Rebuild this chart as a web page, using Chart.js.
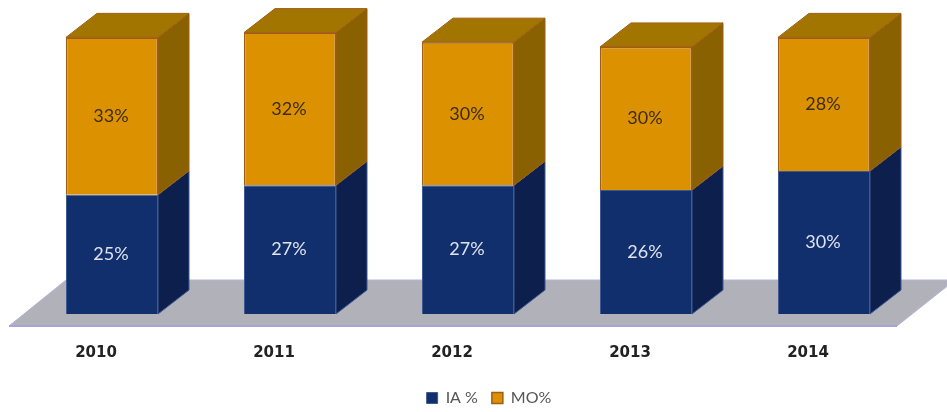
<!DOCTYPE html>
<html>
<head>
<meta charset="utf-8">
<style>
  html, body { margin: 0; padding: 0; background: #fff; }
  canvas { display: block; }
</style>
<script src="https://cdn.jsdelivr.net/npm/chart.js@4"></script>
</head>
<body>
<canvas id="stackChart" width="947" height="412"></canvas>
<script>
const years = ["2010", "2011", "2012", "2013", "2014"];
const iaValues = [25, 27, 27, 26, 30];
const moValues = [33, 32, 30, 30, 28];

// depth of the fake 3D boxes
const depthX = 31;
const depthY = 24;

const floorPlugin = {
  id: 'floor',
  beforeDatasetsDraw(chart) {
    const { ctx, chartArea, scales } = chart;
    const base = scales.y.getPixelForValue(0);
    const front = base + 12;
    const back = base - 34;
    const left = chartArea.left - 14;
    const right = chartArea.right - 16;

    ctx.save();
    ctx.beginPath();
    ctx.moveTo(left, front);
    ctx.lineTo(right, front);
    ctx.lineTo(right + 58, back);
    ctx.lineTo(left + 57, back);
    ctx.closePath();
    ctx.fillStyle = '#b1b2b9';
    ctx.fill();
    ctx.strokeStyle = '#b4b5da';
    ctx.lineWidth = 1;
    ctx.stroke();

    // front edge is heavier
    ctx.beginPath();
    ctx.moveTo(left, front);
    ctx.lineTo(right, front);
    ctx.strokeStyle = '#a3a5d6';
    ctx.lineWidth = 2;
    ctx.stroke();
    ctx.restore();
  }
};

function drawFace(ctx, points, fill, stroke) {
  ctx.beginPath();
  points.forEach((p, i) => i ? ctx.lineTo(p[0], p[1]) : ctx.moveTo(p[0], p[1]));
  ctx.closePath();
  ctx.fillStyle = fill;
  ctx.fill();
  ctx.strokeStyle = stroke;
  ctx.lineWidth = 1;
  ctx.stroke();
}

const boxPlugin = {
  id: 'boxes',
  afterDatasetsDraw(chart) {
    const { ctx } = chart;
    ctx.save();
    chart.data.datasets.forEach((dataset, index) => {
      const meta = chart.getDatasetMeta(index);
      meta.data.forEach((bar, i) => {
        const { x, y, base, width } = bar.getProps(['x', 'y', 'base', 'width'], true);
        const r = x + width / 2;
        const l = x - width / 2;

        drawFace(ctx, [[r, y], [r + depthX, y - depthY], [r + depthX, base - depthY], [r, base]],
          dataset.sideColor, dataset.edgeColor);

        if (index === chart.data.datasets.length - 1) {
          drawFace(ctx, [[l, y], [l + depthX, y - depthY], [r + depthX, y - depthY], [r, y]],
            dataset.topColor, dataset.edgeColor);
        }

        // value label
        ctx.fillStyle = dataset.labelColor;
        ctx.font = '18px Lato';
        ctx.textAlign = 'center';
        ctx.textBaseline = 'middle';
        ctx.fillText(dataset.data[i] + '%', x - 1, (y + base) / 2);
      });
    });
    ctx.restore();
  }
};

// legend sits right of the plot centre and lower than its box in the original
const legendShiftPlugin = {
  id: 'legendShift',
  afterLayout(chart) {
    chart.legend.left += 21;
    chart.legend.right += 21;
    chart.legend.top += 8;
    chart.legend.bottom += 8;
  }
};

new Chart(document.getElementById('stackChart').getContext('2d'), {
  type: 'bar',
  data: {
    labels: years,
    datasets: [
      {
        label: 'IA %',
        data: iaValues,
        backgroundColor: '#112f6c',
        borderColor: '#3f5a92',
        borderWidth: 1,
        sideColor: '#0d1f4c',
        edgeColor: '#3f5a92',
        labelColor: '#dfe3ee'
      },
      {
        label: 'MO%',
        data: moValues,
        backgroundColor: '#dc9200',
        borderColor: '#a05c18',
        borderWidth: 1.5,
        sideColor: '#8a6100',
        topColor: '#a27500',
        edgeColor: '#a05c18',
        labelColor: '#3d2c12'
      }
    ]
  },
  options: {
    responsive: false,
    animation: false,
    layout: { padding: { top: 4, left: 23, right: 34, bottom: 4 } },
    datasets: { bar: { categoryPercentage: 1, barPercentage: 0.517 } },
    scales: {
      x: {
        stacked: true,
        grid: { display: false, drawTicks: false },
        border: { display: false },
        ticks: {
          color: '#222',
          font: { family: 'DejaVu Sans', weight: 'bold', size: 15 },
          padding: 30,
          labelOffset: -16,
          maxRotation: 0
        },
        afterFit(scale) { scale.height = 54; }
      },
      y: {
        stacked: true,
        display: false,
        min: 0,
        max: 65
      }
    },
    plugins: {
      tooltip: { enabled: false },
      legend: {
        position: 'bottom',
        labels: {
          color: '#555',
          font: { family: 'Lato', size: 16 },
          boxWidth: 11,
          boxHeight: 11,
          padding: 14
        }
      }
    }
  },
  plugins: [floorPlugin, boxPlugin, legendShiftPlugin]
});
</script>
</body>
</html>
